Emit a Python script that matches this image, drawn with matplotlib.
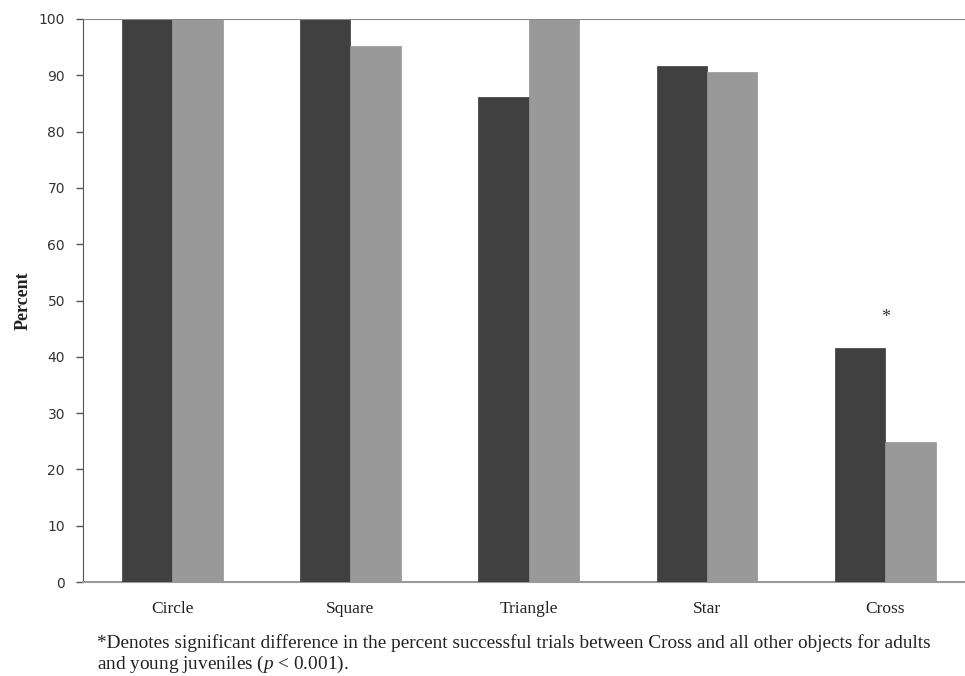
import numpy as np
import matplotlib.pyplot as plt

# data
objects = ['Circle', 'Square', 'Triangle', 'Star', 'Cross']
adults = [100, 100, 86.1, 91.6, 41.6]
juveniles = [100, 95.2, 100, 90.6, 24.9]
yticks = [0, 10, 20, 30, 40, 50, 60, 70, 80, 90, 100]
note = ('*Denotes significant difference in the percent successful trials between Cross and all other objects for adults\n'
        'and young juveniles ($\\it{p}$ < 0.001).')

serif = ['Liberation Serif', 'DejaVu Serif']
plt.rcParams['mathtext.fontset'] = 'custom'
plt.rcParams['mathtext.it'] = 'Liberation Serif:italic'
plt.rcParams['mathtext.rm'] = 'Liberation Serif'

fig = plt.figure(figsize=(9.65, 6.76), dpi=100)
ax = fig.add_axes([83/965, 1 - 582/676, (965 - 83)/965, (582 - 19)/676])

x = np.arange(len(objects))
w = 0.283
ax.bar(x - w/2, adults, w, color='#404040', edgecolor='#3a3a3a', linewidth=0.5, zorder=3)
ax.bar(x + w/2, juveniles, w, color='#999999', edgecolor='#959595', linewidth=0.5, zorder=3)

# asterisk above Cross
ax.text(x[4], 45.5, '*', ha='center', va='bottom', fontsize=13, family=serif, color='#333333')

ax.set_xlim(-0.5, 4.447)
ax.set_ylim(0, 100)
ax.set_yticks(yticks)
ax.set_yticklabels([str(t) for t in yticks], fontsize=10, color='#333333')
ax.tick_params(axis='y', direction='out', length=5, width=1, color='#555555', pad=8)
ax.set_xticks(x)
ax.set_xticklabels(objects, fontsize=12.5, family=serif, color='#222222')
ax.tick_params(axis='x', length=0, pad=14)

ax.axhline(100, color='#888888', linewidth=1.5, zorder=4)
for s in ['top', 'right']:
    ax.spines[s].set_visible(False)
ax.spines['left'].set_color('#555555')
ax.spines['bottom'].set_color('#999999')
ax.spines['bottom'].set_linewidth(1.5)

ax.set_ylabel('Percent', fontsize=13, family=serif, fontweight='bold', color='#222222', labelpad=5)

fig.text(97/965, 1 - 634/676, note, fontsize=13.9, family=serif, color='#222222',
         ha='left', va='top', linespacing=1.12)

fig.savefig('out.png', dpi=100)
